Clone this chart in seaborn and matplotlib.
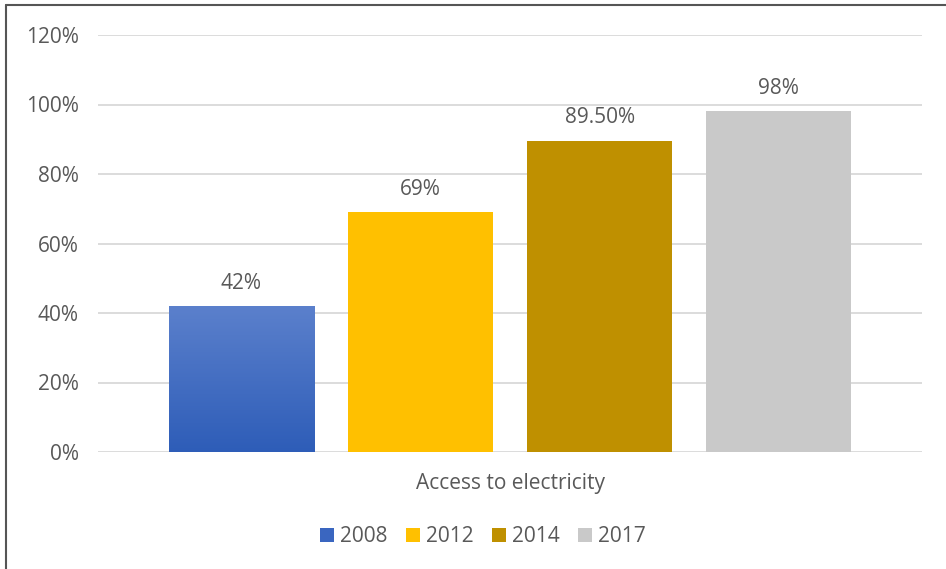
import numpy as np
import pandas as pd
import matplotlib
matplotlib.use("Agg")
import matplotlib.pyplot as plt
import seaborn as sns
from matplotlib.lines import Line2D
from matplotlib.patches import Patch
from matplotlib.colors import LinearSegmentedColormap

# ---- data ----
category = ["Access to electricity"]
years = ["2008", "2012", "2014", "2017"]
values = [42, 69, 89.5, 98]
value_labels = ["42%", "69%", "89.50%", "98%"]
yticks = [0, 20, 40, 60, 80, 100, 120]
ytick_labels = ["0%", "20%", "40%", "60%", "80%", "100%", "120%"]
colors = ["#4472C4", "#FFC000", "#BF9000", "#C9C9C9"]

df = pd.DataFrame({"cat": category * len(years), "year": years, "value": values})

sns.set_theme(style="white")
plt.rcParams["font.family"] = ["Open Sans", "DejaVu Sans"]
text_color = "#595959"
fs = 15

fig = plt.figure(figsize=(9.46, 5.69), dpi=100)
ax = fig.add_axes([98 / 946, 1 - 452 / 569, (922 - 98) / 946, (452 - 35) / 569])

sns.barplot(data=df, x="cat", y="value", hue="year", palette=colors,
            width=0.87, gap=0.19, ax=ax, legend=False, saturation=1,
            edgecolor="none", zorder=3)

ax.set_xlim(-0.5, 0.5)
ax.set_ylim(0, 120)
ax.set_yticks(yticks)
ax.set_yticklabels(ytick_labels)
ax.grid(axis="y", color="#D9D9D9", linewidth=1.3, zorder=0)
for s in ax.spines.values():
    s.set_visible(False)
ax.tick_params(axis="both", length=0, labelsize=fs, colors=text_color)
ax.tick_params(axis="y", pad=14)
ax.tick_params(axis="x", pad=15)
ax.set_xlabel("")
ax.set_ylabel("")

bars = sorted(ax.patches, key=lambda p: p.get_x())
for i, b in enumerate(bars):
    x0, w, h = b.get_x(), b.get_width(), b.get_height()
    if i == 0:
        grad = np.linspace(0, 1, 256).reshape(-1, 1)
        cmap = LinearSegmentedColormap.from_list("g", ["#2E5DB8", "#5B80CC"])
        im = ax.imshow(grad, extent=[x0, x0 + w, 0, h], origin="lower",
                       aspect="auto", cmap=cmap, zorder=3.5)
        im.set_clip_path(b)
        ax.set_xlim(-0.5, 0.5)
        ax.set_ylim(0, 120)
    ax.annotate(value_labels[i], (x0 + w / 2, h), xytext=(0, 9),
                textcoords="offset points", ha="center", va="bottom",
                fontsize=fs, color=text_color)

handles = [Patch(facecolor=c, edgecolor="none") for c in colors]
handles[0] = Patch(facecolor="#3A66C0", edgecolor="none")
fig.legend(handles, years, loc="center", bbox_to_anchor=(483 / 946, 1 - 537 / 569),
           ncol=4, frameon=False, fontsize=fs, labelcolor=text_color,
           handlelength=0.65, handleheight=0.65, handletextpad=0.3,
           columnspacing=0.9)

# frame lines (left and top)
fig.add_artist(Line2D([5.5 / 946, 5.5 / 946], [0, 1 - 5 / 569], color="#555555",
                      linewidth=1.5, transform=fig.transFigure))
fig.add_artist(Line2D([5.5 / 946, 1], [1 - 5 / 569, 1 - 5 / 569], color="#555555",
                      linewidth=1.5, transform=fig.transFigure))

fig.savefig("out.png", dpi=100)
